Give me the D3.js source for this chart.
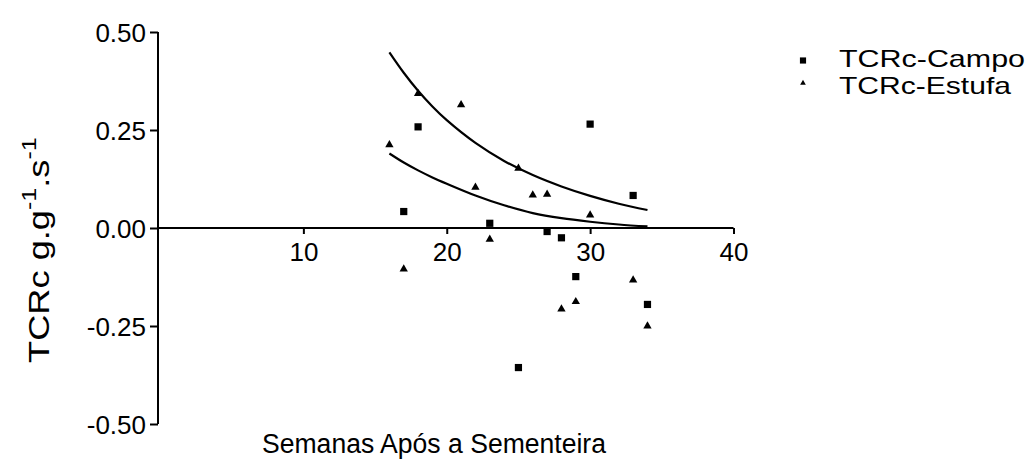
<!DOCTYPE html>
<html>
<head>
<meta charset="utf-8">
<script src="https://cdn.jsdelivr.net/npm/d3@7"></script>
<style>
  html, body { margin: 0; padding: 0; background: #fff; }
  svg { display: block; font-family: "Liberation Sans", Arial, sans-serif; }
</style>
</head>
<body>
<svg id="chart" width="1031" height="459"></svg>
<script>
// Semanas após a sementeira (x) e TCRc observada (y)
const campoWeeks  = [17, 18, 23, 25, 27, 28, 29, 30, 33, 34];
const campoValues = [0.042, 0.258, 0.012, -0.356, -0.009, -0.025, -0.124, 0.265, 0.083, -0.195];

const estufaWeeks  = [16, 17, 18, 21, 22, 23, 25, 26, 27, 28, 29, 30, 33, 34];
const estufaValues = [0.212, -0.105, 0.343, 0.314, 0.104, -0.029, 0.152, 0.084, 0.086, -0.207, -0.188, 0.033, -0.133, -0.25];

// Curvas ajustadas (pontos lidos ao longo de cada curva)
const fitWeeks   = [16, 17, 18, 19, 20, 22, 24, 26, 28, 30, 32, 34];
const fitUpper   = [0.448, 0.396, 0.350, 0.310, 0.275, 0.217, 0.171, 0.135, 0.106, 0.082, 0.062, 0.046];
const fitLower   = [0.190, 0.167, 0.147, 0.129, 0.113, 0.083, 0.058, 0.038, 0.025, 0.016, 0.009, 0.004];

const xTicks = [10, 20, 30, 40];
const yTicks = [-0.5, -0.25, 0, 0.25, 0.5];
const seriesNames = ["TCRc-Campo", "TCRc-Estufa"];

const svg = d3.select("#chart");

const x = d3.scaleLinear().domain([0, 40]).range([160, 733.5]);
const y = d3.scaleLinear().domain([-0.5, 0.5]).range([424, 32]);

const axisX0 = x(0) - 2;
// rótulos com hífen simples, como "-0.25"
const fmtY = d => d.toFixed(2).replace("\u2212", "-");

// Eixo Y
const yAxis = svg.append("g")
  .attr("transform", `translate(${axisX0},0)`)
  .call(d3.axisLeft(y).tickValues(yTicks).tickFormat(fmtY).tickSize(8).tickPadding(4));
yAxis.select(".domain").attr("d", `M0,${y(0.5)}V${y(-0.5)}`).attr("stroke", "#000").attr("stroke-width", 2);
yAxis.selectAll(".tick line").attr("stroke", "#000").attr("stroke-width", 2);
yAxis.selectAll(".tick text").attr("font-size", 26).attr("fill", "#000")
  .attr("font-family", "Liberation Sans, Arial, sans-serif").attr("dy", "0.36em");

// Eixo X (cruza em y = 0)
const xAxis = svg.append("g")
  .attr("transform", `translate(0,${y(0)})`)
  .call(d3.axisBottom(x).tickValues(xTicks).tickFormat(d3.format("d")).tickSize(6).tickPadding(9));
xAxis.select(".domain").attr("d", `M${axisX0},0H${x(40)}`).attr("stroke", "#000").attr("stroke-width", 2);
xAxis.selectAll(".tick line").attr("stroke", "#000").attr("stroke-width", 2);
xAxis.selectAll(".tick text").attr("font-size", 26).attr("fill", "#000")
  .attr("font-family", "Liberation Sans, Arial, sans-serif");

// Curvas ajustadas
const line = d3.line().x(d => x(d[0])).y(d => y(d[1])).curve(d3.curveCatmullRom);
[fitUpper, fitLower].forEach(vals => {
  svg.append("path")
    .datum(fitWeeks.map((w, i) => [w, vals[i]]))
    .attr("d", line)
    .attr("fill", "none")
    .attr("stroke", "#000")
    .attr("stroke-width", 2.2);
});

// Pontos
const sq = d3.symbol().type(d3.symbolSquare).size(52);
const tri = d3.symbol().type(d3.symbolTriangle).size(30);

svg.append("g").selectAll("path")
  .data(campoWeeks.map((w, i) => [w, campoValues[i]]))
  .join("path")
  .attr("d", sq)
  .attr("transform", d => `translate(${x(d[0])},${y(d[1])})`)
  .attr("fill", "#000");

svg.append("g").selectAll("path")
  .data(estufaWeeks.map((w, i) => [w, estufaValues[i]]))
  .join("path")
  .attr("d", tri)
  .attr("transform", d => `translate(${x(d[0])},${y(d[1])})`)
  .attr("fill", "#000");

// Legenda
const legend = svg.append("g");
const legendSymbols = [d3.symbol().type(d3.symbolSquare).size(38), d3.symbol().type(d3.symbolTriangle).size(14)];
const legendSymbolY = [60.5, 83];
const legendTextY = [67, 94];
seriesNames.forEach((name, i) => {
  legend.append("path")
    .attr("d", legendSymbols[i])
    .attr("transform", `translate(803,${legendSymbolY[i]})`)
    .attr("fill", "#000");
  legend.append("text")
    .attr("x", 839).attr("y", legendTextY[i])
    .attr("font-size", 24)
    .attr("textLength", i === 0 ? 186 : 172)
    .attr("lengthAdjust", "spacingAndGlyphs")
    .attr("fill", "#000")
    .text(name);
});

// Título do eixo X
svg.append("text")
  .attr("x", 262).attr("y", 453)
  .attr("font-size", 27)
  .attr("textLength", 344)
  .attr("lengthAdjust", "spacingAndGlyphs")
  .attr("fill", "#000")
  .text("Semanas Após a Sementeira");

// Título do eixo Y com expoentes (texto largo, alongado no sentido da leitura)
const yTitle = svg.append("text")
  .attr("transform", "translate(49,363) rotate(-90) scale(1.25,1)")
  .attr("font-size", 29)
  .attr("fill", "#000");
yTitle.append("tspan").text("TCRc g.g");
yTitle.append("tspan").attr("font-size", 20).attr("dy", -13).text("-1");
yTitle.append("tspan").attr("dy", 13).text(".s");
yTitle.append("tspan").attr("font-size", 20).attr("dy", -13).text("-1");
</script>
</body>
</html>
